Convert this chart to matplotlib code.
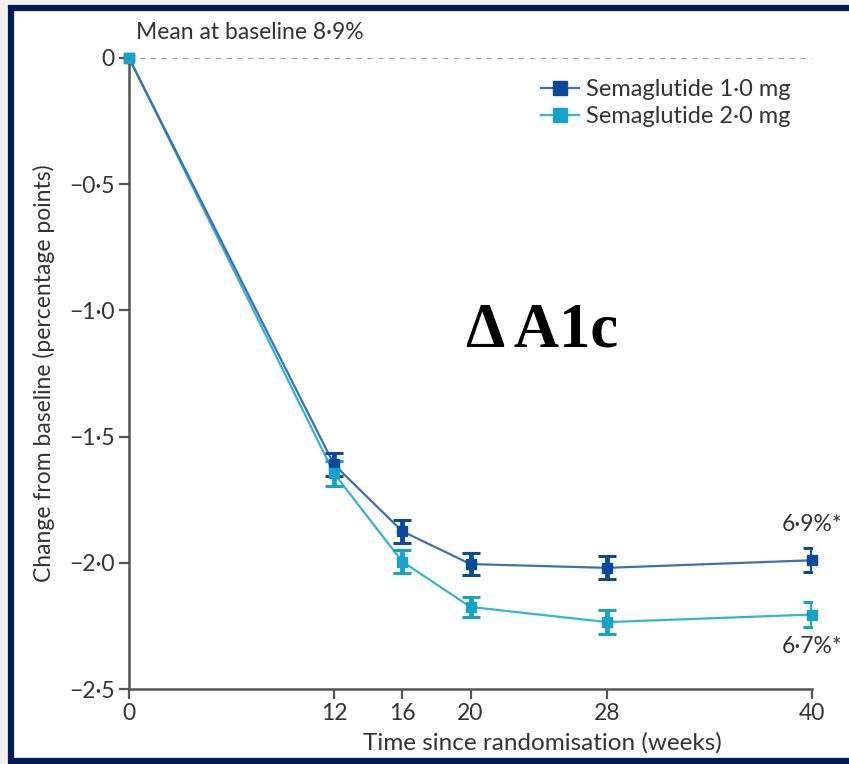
import matplotlib.pyplot as plt
from matplotlib.patches import Rectangle

weeks = [0, 12, 16, 20, 28, 40]
sema_1mg = [0, -1.61, -1.875, -2.005, -2.02, -1.99]
sema_1mg_err = [0, 0.045, 0.045, 0.045, 0.045, 0.048]
sema_2mg = [0, -1.645, -1.995, -2.175, -2.235, -2.205]
sema_2mg_err = [0, 0.05, 0.045, 0.04, 0.048, 0.048]

yticks = [0, -0.5, -1.0, -1.5, -2.0, -2.5]
ytick_labels = ['0', '\u22120\u00b75', '\u22121\u00b70', '\u22121\u00b75', '\u22122\u00b70', '\u22122\u00b75']

dark_blue = '#0b4a99'
dark_line = '#3c6fb3'
cyan = '#18a2c8'
cyan_line = '#36b2d4'
grey = '#555555'
txt = '#333333'
fs = 16.5

plt.rcParams['font.family'] = ['Lato', 'DejaVu Sans']

fig = plt.figure(figsize=(8.49, 7.64), dpi=100, facecolor='#f2f1ef')

# navy frame around the white panel
W, H = 849, 764
frame = Rectangle((11 / W, 3 / H), 1.2, (H - 11) / H, transform=fig.transFigure,
                  facecolor='white', edgecolor='#011b58', linewidth=4.5, zorder=-5)
fig.add_artist(frame)

ax = fig.add_axes([129 / W, 1 - 689 / H, (812 - 129) / W, (689 - 58) / H])
ax.set_facecolor('none')
ax.set_zorder(1)

ax.axhline(0, color='#8a9aa0', linestyle=(0, (3, 3)), linewidth=1.3, zorder=1)

ax.plot(weeks, sema_1mg, color=dark_line, linewidth=1.6, zorder=3, clip_on=False)
ax.plot(weeks, sema_2mg, color=cyan_line, linewidth=1.6, zorder=2, clip_on=False)

ax.errorbar(weeks[1:], sema_1mg[1:], yerr=sema_1mg_err[1:], fmt='none', ecolor=dark_blue,
            elinewidth=3.5, capsize=6.5, capthick=2.2, zorder=4)
ax.errorbar(weeks[1:], sema_2mg[1:], yerr=sema_2mg_err[1:], fmt='none', ecolor=cyan,
            elinewidth=3.5, capsize=6.5, capthick=2.2, zorder=4)
ax.plot(weeks, sema_1mg, linestyle='none', marker='s', markersize=6.5, color=dark_blue,
        zorder=5, clip_on=False)
ax.plot(weeks, sema_2mg, linestyle='none', marker='s', markersize=6.5, color=cyan,
        zorder=5, clip_on=False)

# legend handles
h1, = ax.plot([], [], color=dark_line, linewidth=1.6, marker='s', markersize=10,
              markerfacecolor=dark_blue, markeredgecolor=dark_blue)
h2, = ax.plot([], [], color=cyan_line, linewidth=1.6, marker='s', markersize=10,
              markerfacecolor=cyan, markeredgecolor=cyan)
ax.legend([h1, h2], ['Semaglutide 1\u00b70 mg', 'Semaglutide 2\u00b70 mg'],
          loc='upper right', bbox_to_anchor=(1.0, 1.0), frameon=False, fontsize=fs + 0.5,
          handlelength=1.6, handletextpad=0.3, labelspacing=0.25, labelcolor=txt)

ax.set_xlim(0, 40)
ax.set_ylim(-2.5, 0)
ax.set_xticks(weeks)
ax.set_yticks(yticks)
ax.set_yticklabels(ytick_labels)
ax.tick_params(colors=grey, labelcolor=txt, labelsize=fs, width=1.6, length=7)
ax.tick_params(axis='x', pad=3)

for s in ['top', 'right']:
    ax.spines[s].set_visible(False)
for s in ['left', 'bottom']:
    ax.spines[s].set_color(grey)
    ax.spines[s].set_linewidth(1.8)

ax.set_xlabel('Time since randomisation (weeks)', fontsize=17.5, color=txt)
ax.xaxis.set_label_coords(0.605, -0.068)
ax.set_ylabel('Change from baseline (percentage points)', fontsize=fs, color=txt, labelpad=10)

ax.text(0.4, 0.06, 'Mean at baseline 8\u00b79%', fontsize=fs, color=txt, va='bottom', ha='left')
ax.text(40, -1.89, '6\u00b79%*', fontsize=fs, color=txt, ha='center', va='bottom', clip_on=False)
ax.text(40, -2.29, '6\u00b77%*', fontsize=fs, color=txt, ha='center', va='top', clip_on=False)

ax.text(0.605, 0.567, '\u0394 A1c', transform=ax.transAxes, fontsize=45, fontweight='bold',
        family='Liberation Serif', color='black', ha='center', va='center')

fig.savefig('out.png', dpi=100, facecolor=fig.get_facecolor())
